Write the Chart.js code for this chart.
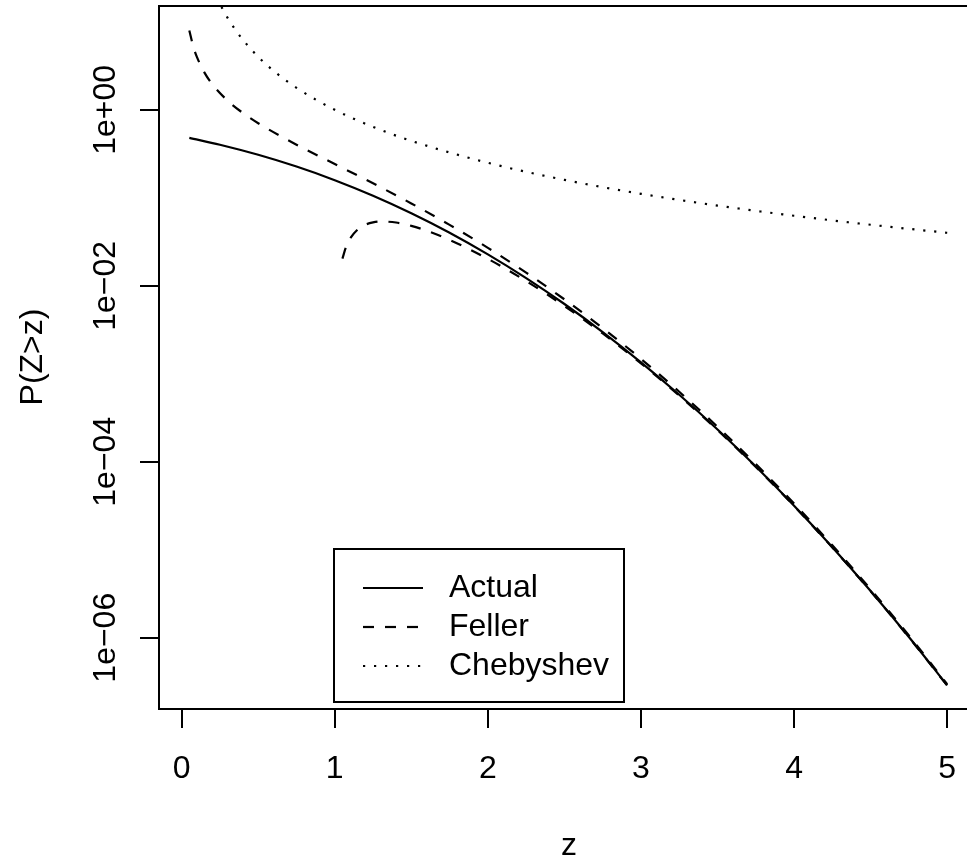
<!DOCTYPE html>
<html>
<head>
<meta charset="utf-8">
<script src="https://cdn.jsdelivr.net/npm/chart.js@4.4.1/dist/chart.umd.min.js"></script>
<style>
  html, body { margin: 0; padding: 0; background: #fff; overflow: hidden; }
  canvas { display: block; }
</style>
</head>
<body>
<canvas id="tailChart" width="1000" height="861"></canvas>
<script>
// values (log y axis)
const zActual = [0.05, 0.25, 0.5, 0.75, 1.0, 1.25, 1.5, 1.75, 2.0, 2.25, 2.5, 2.75, 3.0, 3.25, 3.5, 3.75, 4.0, 4.25, 4.5, 4.75, 5.0];
const pActual = [0.4801, 0.4013, 0.3085, 0.2266, 0.1587, 0.1056, 0.0668, 0.0401, 0.02275, 0.01222, 0.00621, 0.00298, 0.00135, 0.000577, 0.000233, 8.84e-5, 3.17e-5, 1.07e-5, 3.40e-6, 1.02e-6, 2.87e-7];

const zFellerUp = [0.05, 0.075, 0.1, 0.15, 0.2, 0.3, 0.4, 0.5, 0.75, 1.0, 1.25, 1.5, 1.75, 2.0, 2.25, 2.5, 2.75, 3.0, 3.25, 3.5, 3.75, 4.0, 4.25, 4.5, 4.75, 5.0];
const pFellerUp = [7.969, 5.304, 3.970, 2.630, 1.955, 1.271, 0.9207, 0.7041, 0.4015, 0.2420, 0.1461, 0.08635, 0.04930, 0.02700, 0.01411, 0.007012, 0.003307, 0.001477, 0.000624, 0.0002494, 9.40e-5, 3.346e-5, 1.122e-5, 3.55e-6, 1.059e-6, 2.973e-7];

const zFellerLow = [1.05, 1.075, 1.1, 1.15, 1.2, 1.25, 1.3, 1.4, 1.5, 1.6, 1.75, 2.0, 2.25, 2.5, 2.75, 3.0, 3.25, 3.5, 3.75, 4.0, 4.25, 4.5, 4.75, 5.0];
const pFellerLow = [0.02035, 0.02804, 0.03437, 0.04367, 0.04945, 0.0526, 0.05382, 0.05238, 0.04797, 0.04224, 0.0332, 0.02025, 0.01132, 0.00589, 0.00287, 0.001313, 0.000565, 0.0002291, 8.734e-5, 3.136e-5, 1.06e-5, 3.376e-6, 1.012e-6, 2.855e-7];

const zCheby = [0.2, 0.25, 0.3, 0.35, 0.4, 0.5, 0.6, 0.75, 1.0, 1.25, 1.5, 2.0, 2.5, 3.0, 3.5, 4.0, 4.5, 5.0];
const pCheby = [25, 16, 11.11, 8.16, 6.25, 4, 2.778, 1.778, 1, 0.64, 0.444, 0.25, 0.16, 0.111, 0.0816, 0.0625, 0.0494, 0.04];

const xTicks = [0, 1, 2, 3, 4, 5];
const yTicks = [1, 1e-2, 1e-4, 1e-6];
const yTickLabels = ['1e+00', '1e\u221202', '1e\u221204', '1e\u221206'];
const legendNames = ['Actual', 'Feller', 'Chebyshev'];

const FONT = '32px "Liberation Sans", Arial, Helvetica, sans-serif';
const DASHED = [11, 11];
const DOTTED = [2.2, 8.8];

function pts(xs, ys) {
    return xs.map((v, i) => ({x: v, y: ys[i]}));
}

function lineSet(label, xs, ys, dash) {
    return {
        label: label,
        data: pts(xs, ys),
        borderColor: '#000',
        borderWidth: 2.2,
        borderDash: dash,
        borderCapStyle: 'butt',
        pointRadius: 0,
        fill: false,
        cubicInterpolationMode: 'monotone'
    };
}

const framePlugin = {
    id: 'framePlugin',
    afterDraw(chart) {
        const ctx = chart.ctx;
        const a = chart.chartArea;
        const xs = chart.scales.x;
        const ys = chart.scales.y;
        ctx.save();
        ctx.strokeStyle = '#000';
        ctx.lineWidth = 2;
        ctx.strokeRect(a.left, a.top, a.right - a.left, a.bottom - a.top);

        ctx.fillStyle = '#000';
        ctx.font = FONT;
        ctx.textAlign = 'center';
        ctx.textBaseline = 'alphabetic';
        xTicks.forEach(v => ctx.fillText(String(v), xs.getPixelForValue(v), 778));
        yTicks.forEach((v, i) => {
            ctx.save();
            ctx.translate(115, ys.getPixelForValue(v));
            ctx.rotate(-Math.PI / 2);
            ctx.fillText(yTickLabels[i], 0, 0);
            ctx.restore();
        });

        // axis titles
        ctx.fillText('z', 569, 855);
        ctx.save();
        ctx.translate(42, 357);
        ctx.rotate(-Math.PI / 2);
        ctx.fillText('P(Z>z)', 0, 0);
        ctx.restore();

        // legend box
        ctx.lineWidth = 2;
        ctx.strokeRect(334, 549, 290, 153);
        const dashes = [[], DASHED, DOTTED];
        const rows = [588, 627, 666];
        ctx.textAlign = 'left';
        ctx.textBaseline = 'middle';
        rows.forEach((ry, i) => {
            ctx.save();
            ctx.lineWidth = 2.2;
            ctx.setLineDash(dashes[i]);
            ctx.beginPath();
            ctx.moveTo(363, ry);
            ctx.lineTo(423, ry);
            ctx.stroke();
            ctx.restore();
            ctx.fillText(legendNames[i], 449, ry);
        });
        ctx.restore();
    }
};

const axisStyle = {
    grid: {drawOnChartArea: false, drawTicks: true, tickLength: 19, lineWidth: 2, color: '#000'},
    border: {display: true, color: '#000', width: 2},
    ticks: {display: false}
};

new Chart(document.getElementById('tailChart').getContext('2d'), {
    type: 'line',
    data: {
        datasets: [
            lineSet('Actual', zActual, pActual, []),
            lineSet('Feller', zFellerUp, pFellerUp, DASHED),
            lineSet('Feller lower', zFellerLow, pFellerLow, DASHED),
            lineSet('Chebyshev', zCheby, pCheby, DOTTED)
        ]
    },
    options: {
        responsive: false,
        animation: false,
        layout: {padding: {top: 6, left: 0, right: 22.5, bottom: 0}},
        plugins: {legend: {display: false}, tooltip: {enabled: false}},
        scales: {
            x: Object.assign({
                type: 'linear',
                min: -0.148,
                max: 5.198,
                afterBuildTicks: s => { s.ticks = xTicks.map(v => ({value: v})); },
                afterFit: s => { s.height = 152; }
            }, axisStyle),
            y: Object.assign({
                type: 'logarithmic',
                min: Math.pow(10, -6.81),
                max: Math.pow(10, 1.18),
                afterBuildTicks: s => { s.ticks = yTicks.map(v => ({value: v})); },
                afterFit: s => { s.width = 159; }
            }, axisStyle)
        }
    },
    plugins: [framePlugin]
});
</script>
</body>
</html>
